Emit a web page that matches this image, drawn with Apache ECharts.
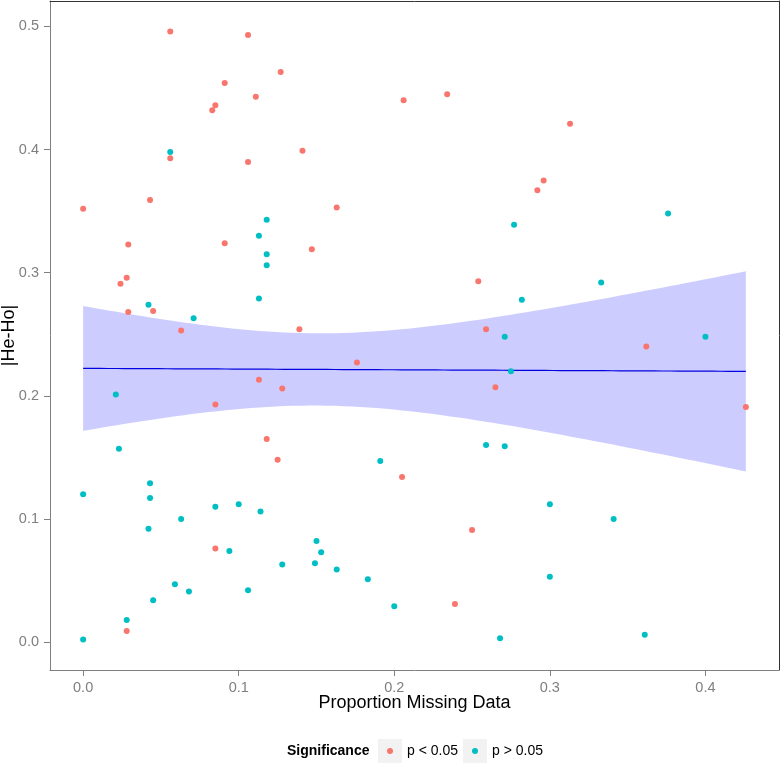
<!DOCTYPE html>
<html><head><meta charset="utf-8">
<script src="https://cdn.jsdelivr.net/npm/echarts@6/dist/echarts.min.js"></script>
<style>html,body{margin:0;padding:0;background:#fff}#c{width:780px;height:763px}</style>
</head><body><div id="c"></div>
<script>
// p < 0.05 group
const redX = [0.056,0.106,0.091,0.111,0.085,0.083,0.056,0.106,0.043,0.000,0.029,0.091,0.028,0.024,0.029,0.045,0.063,0.085,0.085,0.028,0.127,0.206,0.234,0.141,0.163,0.147,0.254,0.139,0.176,0.113,0.128,0.118,0.125,0.205,0.250,0.239,0.313,0.296,0.292,0.259,0.362,0.265,0.426];
const redY = [0.496,0.493,0.454,0.443,0.436,0.432,0.393,0.390,0.359,0.352,0.323,0.324,0.296,0.291,0.268,0.269,0.253,0.193,0.076,0.009,0.463,0.440,0.445,0.399,0.353,0.319,0.293,0.254,0.227,0.213,0.206,0.165,0.148,0.134,0.091,0.031,0.421,0.375,0.367,0.254,0.240,0.207,0.191];
// p > 0.05 group
const cyanX = [0.056,0.113,0.118,0.118,0.118,0.113,0.042,0.071,0.021,0.023,0.043,0.000,0.043,0.085,0.100,0.063,0.042,0.114,0.094,0.059,0.068,0.106,0.045,0.028,0.000,0.191,0.150,0.153,0.128,0.149,0.163,0.183,0.200,0.300,0.341,0.300,0.361,0.277,0.376,0.333,0.282,0.271,0.400,0.275,0.259,0.271,0.268];
const cyanY = [0.398,0.330,0.343,0.315,0.306,0.279,0.274,0.263,0.201,0.157,0.129,0.120,0.117,0.110,0.112,0.100,0.092,0.106,0.074,0.047,0.041,0.042,0.034,0.018,0.002,0.147,0.082,0.073,0.063,0.064,0.059,0.051,0.029,0.112,0.100,0.053,0.006,0.339,0.348,0.292,0.278,0.248,0.248,0.220,0.160,0.159,0.003];
const xTicks = [0, 0.1, 0.2, 0.3, 0.4];
const yTicks = [0, 0.1, 0.2, 0.3, 0.4, 0.5];
const groupNames = ['p < 0.05', 'p > 0.05'];
const groupColors = ['#F8766D', '#00BFC4'];
const legendTitle = 'Significance';
const xTitle = 'Proportion Missing Data';
const yTitle = '|He-Ho|';

// linear model fit with 95% confidence band (as geom_smooth(method = "lm"))
const allX = redX.concat(cyanX), allY = redY.concat(cyanY);
const n = allX.length;
const xbar = allX.reduce((a,b)=>a+b,0)/n, ybar = allY.reduce((a,b)=>a+b,0)/n;
let sxx=0, sxy=0;
for (let i=0;i<n;i++){ sxx += (allX[i]-xbar)**2; sxy += (allX[i]-xbar)*(allY[i]-ybar); }
const b1 = sxy/sxx, b0 = ybar - b1*xbar;
let sse=0; for (let i=0;i<n;i++){ sse += (allY[i]-(b0+b1*allX[i]))**2; }
const s2 = sse/(n-2), tq = 1.987;
const xMinD = Math.min(...allX), xMaxD = Math.max(...allX);
const yMinD = Math.min(...allY), yMaxD = Math.max(...allY);
const fitX=[], fitY=[], lowY=[], upY=[];
for (let k=0;k<80;k++){
  const x = xMinD + (xMaxD-xMinD)*k/79;
  const f = b0 + b1*x;
  const se = Math.sqrt(s2*(1/n + (x-xbar)**2/sxx));
  fitX.push(x); fitY.push(f); lowY.push(f - tq*se); upY.push(f + tq*se);
}
const xr = xMaxD-xMinD, yr = yMaxD-yMinD;
const xMin = xMinD - 0.05*xr, xMax = xMaxD + 0.05*xr;
const yMin = yMinD - 0.05*yr, yMax = yMaxD + 0.05*yr;

const FONT = "'Liberation Sans', Arial, sans-serif";
const tickColor = '#7f7f7f';

function keyIcon(color){
  const svg = "<svg xmlns='http://www.w3.org/2000/svg' width='24' height='24'><rect width='24' height='24' fill='#f2f2f2'/><circle cx='12' cy='12' r='3' fill='"+color+"'/></svg>";
  return 'image://data:image/svg+xml;charset=utf-8,' + encodeURIComponent(svg);
}

const chart = echarts.init(document.getElementById('c'), null, {renderer:'canvas'});
chart.setOption({
  animation: false,
  backgroundColor: '#fff',
  textStyle: {fontFamily: FONT},
  grid: {left: 50, right: 1, top: 1, bottom: 93, outerBoundsMode: 'none', containLabel: false},
  title: {text: legendTitle, left: 287, top: 744, padding: 0,
    textStyle: {fontFamily: FONT, fontSize: 14, fontWeight: 'bold', color: '#000'}},
  legend: {
    left: 378, top: 739, padding: 0, itemGap: 5, itemWidth: 24, itemHeight: 24,
    textStyle: {fontFamily: FONT, fontSize: 14, color: '#000', padding: [0,0,0,0]},
    data: groupNames.map((nm,i)=>({name: nm, icon: keyIcon(groupColors[i])}))
  },
  xAxis: [{
    type: 'value', min: xMin, max: xMax, position: 'bottom',
    axisLine: {show: true, onZero: false, lineStyle: {color: tickColor, width: 1}},
    axisTick: {show: true, length: 6, customValues: xTicks, lineStyle: {color: tickColor}},
    axisLabel: {customValues: xTicks, formatter: v => v.toFixed(1), color: tickColor, fontSize: 14.5, margin: 10, fontFamily: FONT},
    splitLine: {show: false},
    name: xTitle, nameLocation: 'middle', nameGap: 24, nameMoveOverlap: false,
    nameTextStyle: {fontSize: 18, color: '#000', fontFamily: FONT}
  },{
    type: 'value', min: xMin, max: xMax, position: 'top',
    axisLine: {show: true, onZero: false, lineStyle: {color: '#333', width: 1}},
    axisTick: {show: false}, axisLabel: {show: false}, splitLine: {show: false}
  }],
  yAxis: [{
    type: 'value', min: yMin, max: yMax, position: 'left',
    axisLine: {show: true, onZero: false, lineStyle: {color: tickColor, width: 1}},
    axisTick: {show: true, length: 6, customValues: yTicks, lineStyle: {color: tickColor}},
    axisLabel: {customValues: yTicks, formatter: v => v.toFixed(1), color: tickColor, fontSize: 14.5, margin: 11, fontFamily: FONT},
    splitLine: {show: false},
    name: yTitle, nameLocation: 'middle', nameGap: 32, nameRotate: 90, nameMoveOverlap: false,
    nameTextStyle: {fontSize: 18, color: '#000', fontFamily: FONT}
  },{
    type: 'value', min: yMin, max: yMax, position: 'right',
    axisLine: {show: true, onZero: false, lineStyle: {color: '#333', width: 1}},
    axisTick: {show: false}, axisLabel: {show: false}, splitLine: {show: false}
  }],
  series: [
    {
      type: 'custom', name: 'band', silent: true, z: 1,
      xAxisIndex: 0, yAxisIndex: 0,
      data: [[fitX[0], fitY[0]]],
      encode: {x: 0, y: 1},
      renderItem: (params, api) => {
        const pts = [];
        for (let i=0;i<fitX.length;i++) pts.push(api.coord([fitX[i], upY[i]]));
        for (let i=fitX.length-1;i>=0;i--) pts.push(api.coord([fitX[i], lowY[i]]));
        return {type: 'polygon', shape: {points: pts}, style: {fill: 'rgba(0,0,255,0.2)'}};
      }
    },
    {
      type: 'line', name: 'fit', silent: true, z: 2, showSymbol: false,
      xAxisIndex: 0, yAxisIndex: 0,
      data: fitX.map((x,i)=>[x, fitY[i]]),
      lineStyle: {color: '#0000e0', width: 1.2}
    },
    {
      type: 'scatter', name: groupNames[0], z: 3, symbolSize: 6,
      xAxisIndex: 0, yAxisIndex: 0,
      itemStyle: {color: groupColors[0], opacity: 1},
      data: redX.map((x,i)=>[x, redY[i]])
    },
    {
      type: 'scatter', name: groupNames[1], z: 3, symbolSize: 6,
      xAxisIndex: 0, yAxisIndex: 0,
      itemStyle: {color: groupColors[1], opacity: 1},
      data: cyanX.map((x,i)=>[x, cyanY[i]])
    }
  ]
});
</script></body></html>
